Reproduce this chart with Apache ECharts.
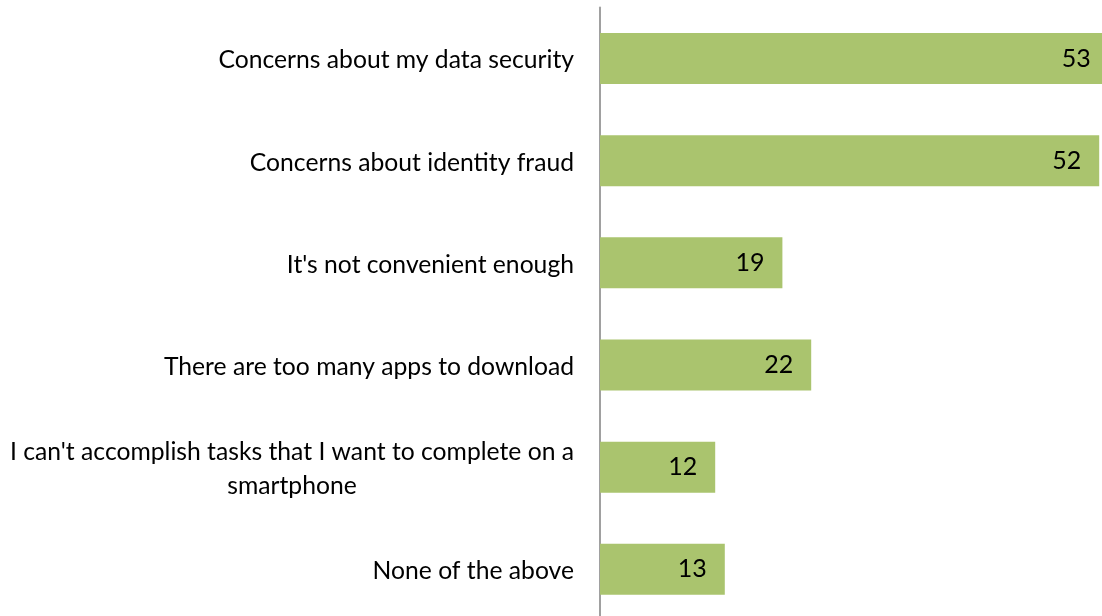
<!DOCTYPE html>
<html>
<head>
<meta charset="utf-8">
<script src="https://cdn.jsdelivr.net/npm/echarts@6/dist/echarts.min.js"></script>
<style>html,body{margin:0;padding:0;background:#fff}#c{width:1102px;height:616px}</style>
</head>
<body>
<div id="c"></div>
<script>
var categories = [
  "Concerns about my data security",
  "Concerns about identity fraud",
  "It's not convenient enough",
  "There are too many apps to download",
  "I can't accomplish tasks that I want to complete on a\nsmartphone",
  "None of the above"
];
var values = [53, 52, 19, 22, 12, 13];

var FONT = 'Lato';
var chart = echarts.init(document.getElementById('c'));
chart.setOption({
  animation: false,
  grid: { left: 600, top: 7.4, height: 613, width: 576, outerBoundsMode: 'none' },
  xAxis: {
    type: 'value', min: 0, max: 60,
    axisLine: { show: false }, axisTick: { show: false },
    axisLabel: { show: false }, splitLine: { show: false }
  },
  yAxis: {
    type: 'category', inverse: true, data: categories,
    axisLine: { show: true, lineStyle: { color: '#A0A0A0', width: 2 } },
    axisTick: { show: false },
    axisLabel: {
      margin: 26, color: '#000', fontFamily: FONT, fontSize: 24.7,
      padding: [4, 0, 0, 0],
      formatter: function (v) {
        return v.split('\n').map(function (s) { return '{c|' + s + '}'; }).join('\n');
      },
      rich: { c: { align: 'center', fontFamily: FONT, fontSize: 24.7, color: '#000', lineHeight: 34 } }
    }
  },
  series: [{
    type: 'bar', data: values, barWidth: 51, clip: false,
    itemStyle: { color: '#AAC46E' },
    label: {
      show: true, position: 'insideRight', distance: 18,
      color: '#000', fontFamily: FONT, fontSize: 25
    }
  }]
});
</script>
</body>
</html>
